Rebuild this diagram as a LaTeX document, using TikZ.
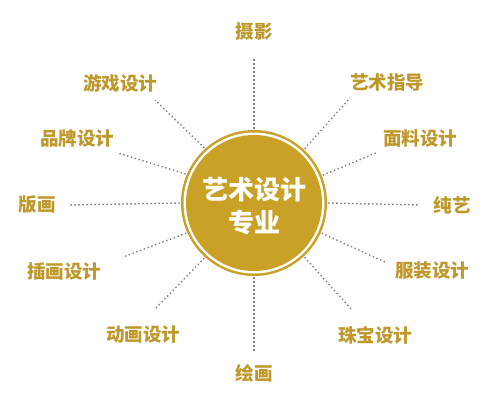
\documentclass[tikz,border=0pt]{standalone}
\usepackage{fontspec}
\newfontfamily\cjk{Noto Sans CJK SC}
\definecolor{gold}{RGB}{201,161,38}
\definecolor{goldtext}{RGB}{190,152,42}
\tikzset{
  field/.style={text=goldtext, inner sep=0pt, font=\cjk\bfseries\fontsize{18.5}{20}\selectfont},
  spoke/.style={draw=black!50, line width=1.4pt, dash pattern=on 1.4pt off 2.6pt},
  hubtext/.style={text=white, inner sep=0pt, font=\cjk\bfseries\fontsize{26}{28}\selectfont}
}
\begin{document}
\begin{tikzpicture}[x=1pt,y=-1pt]
\useasboundingbox (0,0) rectangle (497,404);

\coordinate (c) at (254,203);

% the hub
\fill[gold] (c) circle (73pt);
\fill[white] (c) circle (70.5pt);
\fill[gold] (c) circle (68pt);
\node[circle, minimum size=148pt, inner sep=0pt] (hub) at (c) {};
\node[hubtext] (title) at (254,190) {艺术设计};
\node[hubtext] (subtitle) at (254,223) {专业};

% the fields
\node[field] (sheying) at (254,32) {摄影};
\node[field] (zhidao) at (387,82) {艺术指导};
\node[field] (mianliao) at (420,138) {面料设计};
\node[field] (chunyi) at (452,205) {纯艺};
\node[field] (fuzhuang) at (432,271) {服装设计};
\node[field] (zhubao) at (375,335) {珠宝设计};
\node[field] (huihua) at (254,373) {绘画};
\node[field] (donghua) at (143,335) {动画设计};
\node[field] (chahua) at (64,271) {插画设计};
\node[field] (banhua) at (37,205) {版画};
\node[field] (pinpai) at (77,138) {品牌设计};
\node[field] (youxi) at (120,83) {游戏设计};

% free ends of the spokes
\coordinate (sheying-end) at (254,57);
\coordinate (zhidao-end) at (350,98);
\coordinate (mianliao-end) at (378,152);
\coordinate (chunyi-end) at (420,205);
\coordinate (fuzhuang-end) at (385,262);
\coordinate (zhubao-end) at (352,310);
\coordinate (huihua-end) at (254,352);
\coordinate (donghua-end) at (155,309);
\coordinate (chahua-end) at (123,257);
\coordinate (banhua-end) at (68,205);
\coordinate (pinpai-end) at (118,153);
\coordinate (youxi-end) at (155,100);

\draw[spoke] (hub.90) -- (sheying-end);
\draw[spoke] (hub.47.5) -- (zhidao-end);
\draw[spoke] (hub.22.5) -- (mianliao-end);
\draw[spoke] (hub.0) -- (chunyi-end);
\draw[spoke] (hub.-24) -- (fuzhuang-end);
\draw[spoke] (hub.-47.5) -- (zhubao-end);
\draw[spoke] (hub.-90) -- (huihua-end);
\draw[spoke] (hub.-132.5) -- (donghua-end);
\draw[spoke] (hub.-156) -- (chahua-end);
\draw[spoke] (hub.180) -- (banhua-end);
\draw[spoke] (hub.157.5) -- (pinpai-end);
\draw[spoke] (hub.132.5) -- (youxi-end);

\end{tikzpicture}
\end{document}
